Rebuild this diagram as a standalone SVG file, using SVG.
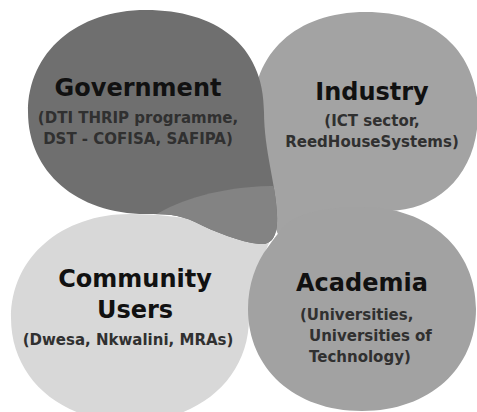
<svg xmlns="http://www.w3.org/2000/svg" width="477" height="412" viewBox="0 0 477 412">
  <style>
    .title { font-family: "DejaVu Sans", Verdana, sans-serif; font-weight: bold; font-size: 24px; fill: #111111; }
    .sub { font-family: "DejaVu Sans", Verdana, sans-serif; font-weight: bold; font-size: 15px; fill: #303030; }
    .mid { text-anchor: middle; }
  </style>
  <defs>
    <!-- teardrop: rounded body with a tail pointing to the centre -->
    <path id="govShape" d="M146,10 C215,10 264,44 264,112 C264,150 276,185 277,215 C278,236 272,245 260,244 C240,242 215,232 195,222 C178,214 165,214 146,214 C77,214 28,172 28,112 C28,52 77,10 146,10 Z"/>
    <clipPath id="govClip">
      <use href="#govShape"/>
    </clipPath>
  </defs>

  <rect width="477" height="412" fill="#ffffff"/>

  <!-- each petal is a teardrop whose tail meets the others in the middle -->
  <g id="community">
    <path d="M249,318 C249,379 198,422 130,422 C62,422 11,379 11,318 C11,257 62,214 130,214 C180,214 230,225 272,236 C262,258 252,285 249,318 Z" fill="#d8d8d8"/>
    <text class="title mid" x="135" y="287">Community</text>
    <text class="title mid" x="135" y="318">Users</text>
    <text class="sub mid" x="128" y="345">(Dwesa, Nkwalini, MRAs)</text>
  </g>

  <g id="industry">
    <path d="M478,113 C478,172 440,210 388,211 C350,212 310,222 282,242 C270,220 253,170 253,113 C253,54 295,12 366,12 C437,12 478,54 478,113 Z" fill="#a3a3a3"/>
    <text class="title mid" x="372" y="100">Industry</text>
    <text class="sub mid" x="372" y="126">(ICT sector,</text>
    <text class="sub mid" x="372" y="147">ReedHouseSystems)</text>
  </g>

  <g id="academia">
    <path d="M362,207 C430,207 476,250 476,309 C476,368 430,411 362,411 C294,411 248,368 248,309 C248,285 256,262 268,247 C273,240 279,232 285,225 C300,212 330,207 362,207 Z" fill="#a2a2a2"/>
    <text class="title mid" x="362" y="291">Academia</text>
    <text class="sub" x="300" y="320">(Universities,</text>
    <text class="sub" x="309" y="341">Universities of</text>
    <text class="sub" x="309" y="362">Technology)</text>
  </g>

  <g id="government">
    <use href="#govShape" fill="#6f6f6f"/>
    <!-- lighter fold on the lower part of the tail -->
    <path d="M155,215 C180,200 220,187 270,186 L300,186 L300,260 L155,260 Z" fill="#838383" clip-path="url(#govClip)"/>
    <text class="title mid" x="138" y="96">Government</text>
    <text class="sub mid" x="138" y="123">(DTI THRIP programme,</text>
    <text class="sub mid" x="138" y="144">DST - COFISA, SAFIPA)</text>
  </g>

  <g id="connectors"/>
</svg>
